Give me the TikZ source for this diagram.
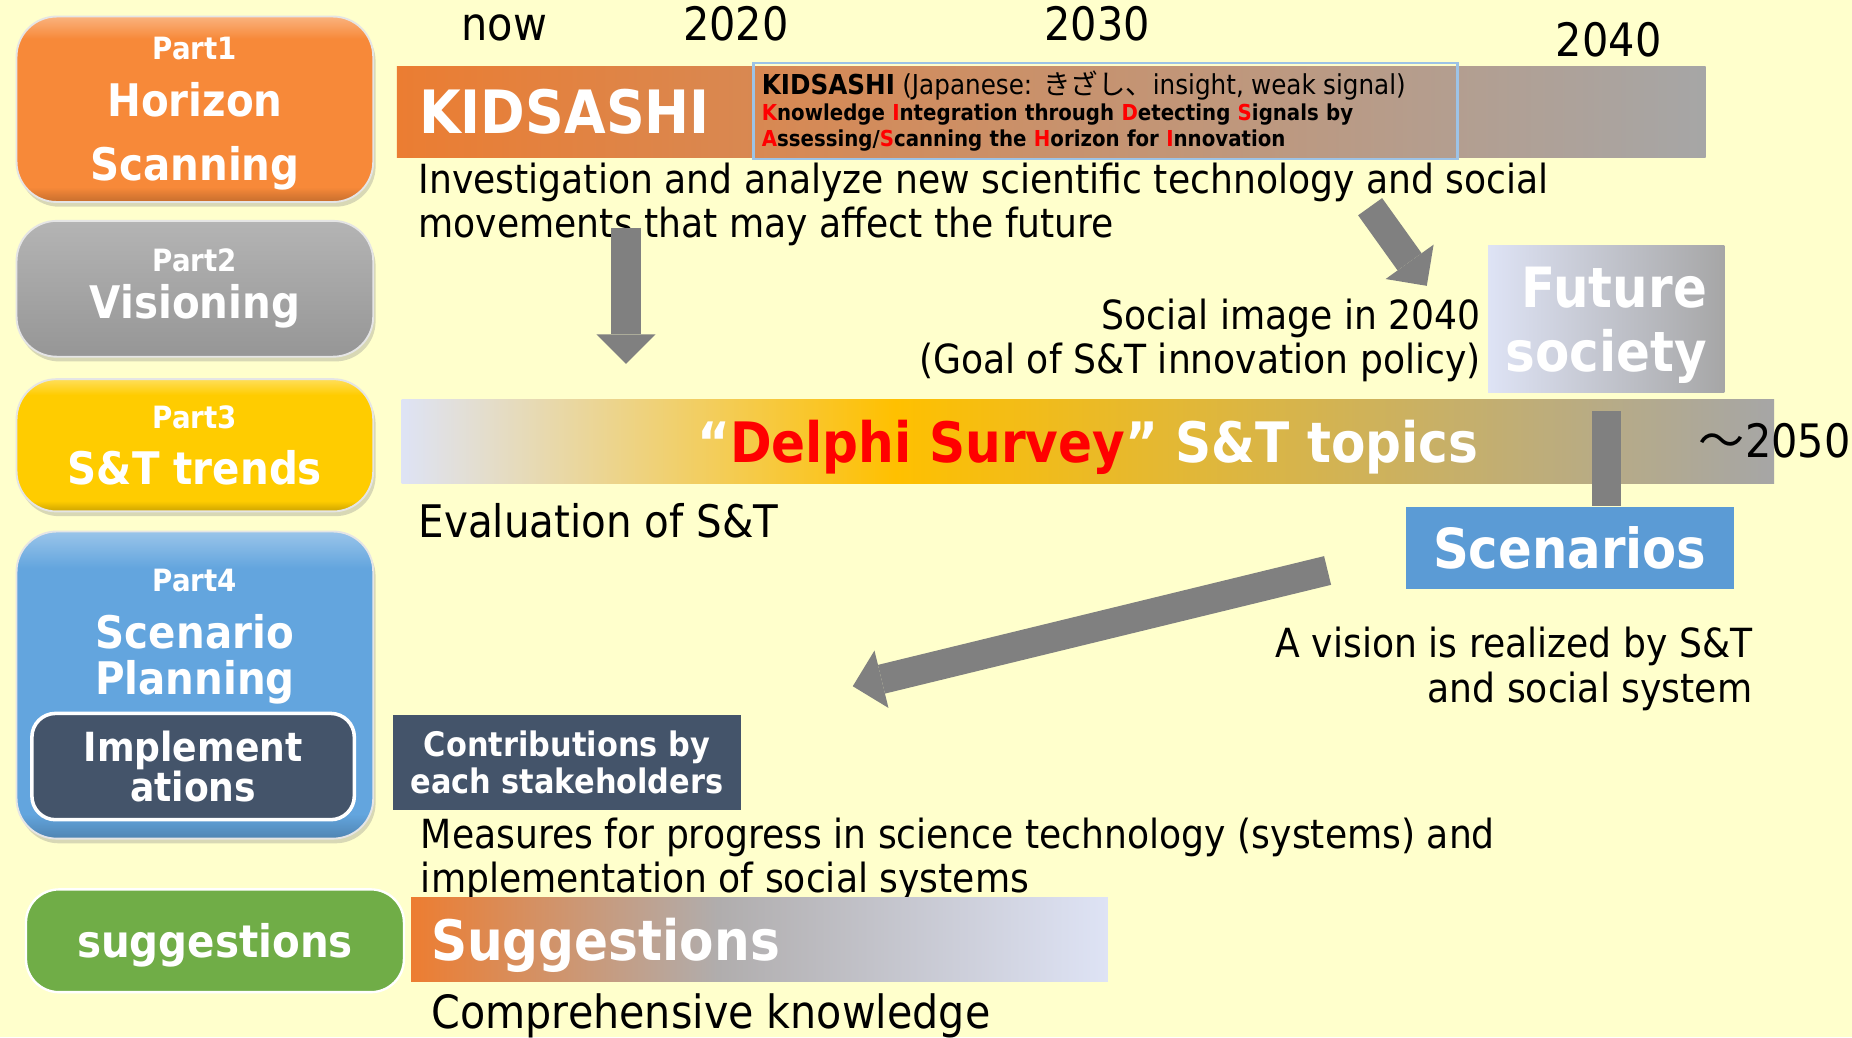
\documentclass[tikz,border=0pt]{standalone}
\usepackage{fontspec}
\setmainfont{DejaVu Sans}[FakeStretch=0.9]
\newfontfamily\jpfont{Noto Sans CJK JP}
\usepackage{tikz}
\usetikzlibrary{positioning,arrows.meta,shadows}

\definecolor{bgyellow}{RGB}{255,255,204}
\definecolor{part1orange}{RGB}{247,137,57}
\definecolor{part2top}{RGB}{180,180,180}
\definecolor{part2bot}{RGB}{150,150,150}
\definecolor{part3yellow}{RGB}{255,204,0}
\definecolor{part4blue}{RGB}{99,165,222}
\definecolor{slate}{RGB}{68,84,106}
\definecolor{partgreen}{RGB}{112,173,71}
\definecolor{kidorange}{RGB}{235,125,50}
\definecolor{midgray}{RGB}{166,166,166}
\definecolor{lavgray}{RGB}{222,227,245}
\definecolor{delphigold}{RGB}{255,192,0}
\definecolor{delphired}{RGB}{255,0,0}
\definecolor{kidblue}{RGB}{157,195,230}
\definecolor{scenblue}{RGB}{91,155,213}
\definecolor{arrowgray}{RGB}{128,128,128}
\definecolor{suggestorange}{RGB}{237,125,49}
\definecolor{suggestgray}{RGB}{176,173,173}
\colorlet{bevelbase}{part1orange}
\colorlet{beveldark}{part1orange!80!black}
\colorlet{bevellight}{part1orange!65!white}

\pgfdeclarehorizontalshading{delphishade}{100bp}{color(0bp)=(lavgray); color(25bp)=(lavgray); color(43bp)=(delphigold); color(75bp)=(midgray); color(100bp)=(midgray)}
\pgfdeclarehorizontalshading{suggestshade}{100bp}{color(0bp)=(suggestorange); color(25bp)=(suggestorange); color(47bp)=(suggestgray); color(75bp)=(lavgray); color(100bp)=(lavgray)}
\pgfdeclareverticalshading[bevelbase,beveldark,bevellight]{bevelshade}{100bp}{color(0bp)=(beveldark); color(25bp)=(beveldark); color(29bp)=(bevelbase); color(69bp)=(bevelbase); color(75bp)=(bevellight); color(100bp)=(bevellight)}

\begin{document}
\begin{tikzpicture}
[
x=0.5pt, y=-0.5pt,
part-box/.style={rounded corners=17pt, minimum width=151pt, draw=white!80!gray, line width=0.8pt, text=white, align=center, font=\bfseries\fontsize{19}{26}\selectfont, drop shadow={opacity=0.3, shadow xshift=1pt, shadow yshift=-2pt}},
bevel/.style={/utils/exec={\colorlet{bevelbase}{#1}\colorlet{beveldark}{#1!80!black}\colorlet{bevellight}{#1!65!white}}, shading=bevelshade},
year-text/.style={anchor=base, inner sep=0pt, font=\fontsize{19.5}{19.5}\selectfont},
body-text/.style={inner sep=0pt, font=\fontsize{17}{18.5}\selectfont},
white-title/.style={text=white, font=\bfseries\fontsize{23.6}{27}\selectfont},
fat-arrow/.style={draw=arrowgray, line width=12.5pt, -{Triangle[width=25pt, length=12.5pt, line width=0pt]}},
link-bar/.style={draw=arrowgray, line width=12pt}
]
\fill[bgyellow] (0,0) rectangle (1568,878);
\useasboundingbox (0,0) rectangle (1568,878);

\node (part-1)       [part-box, bevel=part1orange, minimum height=78.5pt, font=\bfseries\fontsize{19}{27}\selectfont, text depth=0.5pt] at (165,92.5) {{\fontsize{13}{13}\selectfont Part1}\\[-3pt]Horizon\\Scanning};
\node (part-2)       [part-box, top color=part2top, bottom color=part2bot, minimum height=57.5pt] at (165,244.5) {{\fontsize{13}{13}\selectfont Part2}\\[-6pt]Visioning};
\node (part-3)       [part-box, bevel=part3yellow, minimum height=56pt] at (165,377) {{\fontsize{13}{13}\selectfont Part3}\\[-2.5pt]S\&T trends};
\node (part-4)       [part-box, bevel=part4blue, minimum height=130pt] at (165,580) {};
\node (part-4-title) [text=white, align=center, font=\bfseries\fontsize{19}{26}\selectfont] at (165,539) {{\fontsize{13}{13}\selectfont Part4}\\[-2pt]Scenario\\[-6.5pt]Planning};
\node (impl)         [rounded corners=10pt, fill=slate, draw=white, line width=1.5pt, minimum width=136.5pt, minimum height=45pt, align=center, text=white, font=\bfseries\fontsize{17}{17}\selectfont] at (163.5,649) {Implement\\ations};
\node (suggest-box)  [rounded corners=14pt, fill=partgreen, draw=white, line width=1pt, minimum width=160pt, minimum height=43.5pt, text depth=0.5pt, text=white, font=\bfseries\fontsize{19}{19}\selectfont] at (182,796.5) {suggestions};

\node (year-now)  [year-text] at (427,34)  {now};
\node (year-2020) [year-text] at (623,34)  {2020};
\node (year-2030) [year-text] at (929,34)  {2030};
\node (year-2040) [year-text] at (1362,48) {2040};

\node (kid-bar) [left color=kidorange, right color=midgray, text width=535pt, inner xsep=9.5pt, minimum height=38.5pt, align=left, text=white, font=\bfseries\fontsize{25.3}{25.3}\selectfont] at (890,94.5) {KIDSASHI};
\node (kid-box) [draw=kidblue, line width=1pt, text width=291pt, inner xsep=3.5pt, minimum height=38pt, align=left, font=\bfseries\fontsize{9.3}{11}\selectfont] at (936,94)
  {{\mdseries\fontsize{11.6}{11}\selectfont\textbf{KIDSASHI} (Japanese: {\jpfont きざし、}insight, weak signal)}\\
   \textcolor{delphired}{K}nowledge \textcolor{delphired}{I}ntegration through \textcolor{delphired}{D}etecting \textcolor{delphired}{S}ignals by\\
   \textcolor{delphired}{A}ssessing/\textcolor{delphired}{S}canning the \textcolor{delphired}{H}orizon for \textcolor{delphired}{I}nnovation};

\node (investigate)  [body-text, anchor=base west, align=left] at (354,201) {Investigation and analyze new scientific technology and social\\movements that may affect the future};
\node (social-image) [body-text, anchor=base east, align=right] at (1254,316) {Social image in 2040\\(Goal of S\&T innovation policy)};
\node (future)       [left color=lavgray, right color=midgray, minimum width=100pt, minimum height=62pt, text depth=0pt, align=right, text=white, font=\bfseries\fontsize{23.5}{27}\selectfont] at (1360,270) {Future\\society};

\node (delphi-bar)   [shading=delphishade, minimum width=581pt, minimum height=35.5pt, text depth=0pt, white-title] at (921,373.5) {“\textcolor{delphired}{Delphi Survey}” S\&T topics};
\node (until-2050)   [year-text, anchor=base west] at (1438,387) {{\jpfont ～}2050};
\node (scenarios)    [fill=scenblue, minimum width=139pt, minimum height=35pt, text=white, font=\bfseries\fontsize{23.4}{23.4}\selectfont] at (1329,464) {Scenarios};
\coordinate (link-top) at (1360,348);
\draw[link-bar] (link-top) -- (link-top |- scenarios.north);

\node (evaluation)   [body-text, anchor=base west, font=\fontsize{19}{19}\selectfont] at (354,455) {Evaluation of S\&T};
\node (vision)       [body-text, anchor=base east, align=right, font=\fontsize{17}{19}\selectfont] at (1484,595) {A vision is realized by S\&T\\and social system};
\node (contrib)      [fill=slate, minimum width=147pt, minimum height=40.5pt, align=center, text=white, font=\bfseries\fontsize{14.3}{16}\selectfont] at (480,645.5) {Contributions by\\each stakeholders};
\node (measures)     [body-text, anchor=base west, align=left, font=\fontsize{17}{19}\selectfont] at (356,756) {Measures for progress in science technology (systems) and\\implementation of social systems};
\node (suggest-bar)  [shading=suggestshade, text width=278pt, inner xsep=8.5pt, minimum height=35.5pt, text depth=0pt, align=left, text=white, font=\bfseries\fontsize{23.6}{23.6}\selectfont] at (643,795.5) {Suggestions};
\node (comprehensive) [body-text, anchor=base west, font=\fontsize{19.4}{19.4}\selectfont] at (365,871) {Comprehensive knowledge};

\coordinate (arrow-down-start)  at (530,193);
\coordinate (arrow-down-end)    at (530,308);
\coordinate (arrow-image-start) at (1160,175);
\coordinate (arrow-image-end)   at (1208,242);
\coordinate (arrow-scen-start)  at (1124,483);
\coordinate (arrow-scen-end)    at (722,581);
\draw[fat-arrow] (arrow-down-start)  -- (arrow-down-end);
\draw[fat-arrow] (arrow-image-start) -- (arrow-image-end);
\draw[fat-arrow] (arrow-scen-start)  -- (arrow-scen-end);
\end{tikzpicture}
\end{document}
